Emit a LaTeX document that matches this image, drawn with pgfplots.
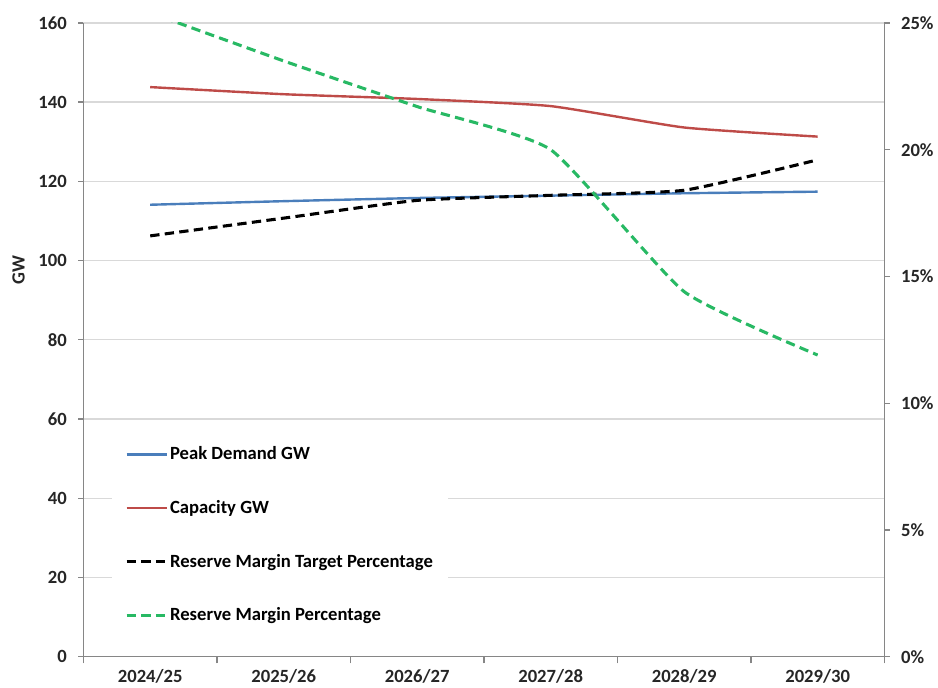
\documentclass[border=0pt]{standalone}
\usepackage{pgfplots}
\pgfplotsset{compat=1.18}
\usepackage{fontspec}
\setmainfont{Carlito}

\definecolor{peakblue}{RGB}{74,126,187}
\definecolor{capred}{RGB}{190,75,72}
\definecolor{rmgreen}{RGB}{40,185,100}
\definecolor{gridgray}{RGB}{217,217,217}
\definecolor{axgray}{RGB}{134,134,134}
\definecolor{txt}{RGB}{38,38,38}

\pgfplotsset{
  chartbase/.style={
    scale only axis, width=601.5pt, height=476pt,
    xmin=-0.5, xmax=5.5,
    tick label style={font=\fontsize{14}{17}\selectfont\bfseries, text=txt},
    /pgf/number format/assume math mode=true,
    tick align=outside, major tick length=4pt,
    axis line style={axgray, line width=1pt},
    every tick/.style={axgray, line width=1pt},
  },
}

\begin{document}
\begin{tikzpicture}
\begin{axis}[chartbase,
  ymin=0, ymax=160, ytick={0,20,...,160},
  axis x line*=bottom, axis y line*=left,
  ymajorgrids, grid style={gridgray, line width=1pt},
  xtick={0,...,5},
  xticklabels={2024/25,2025/26,2026/27,2027/28,2028/29,2029/30},
  major x tick style={draw=none},
  minor xtick={-0.5,0.5,...,5.5}, minor tick length=5pt,
  xticklabel style={yshift=-2pt},
  yticklabel style={xshift=-5pt},
  ylabel={GW}, ylabel style={font=\fontsize{14}{17}\selectfont\bfseries, text=txt,
    at={(axis description cs:-0.081,0.61)}, anchor=center},
]
\addplot[peakblue, line width=1.8pt, smooth, tension=0.3] coordinates {
(0,114.1) (1,115.0) (2,115.8) (3,116.4) (4,117.0) (5,117.4)};
\addplot[capred, line width=1.8pt, smooth, tension=0.3] coordinates {
(0,143.8) (1,142.0) (2,140.8) (3,139.0) (4,133.6) (5,131.3)};
\end{axis}

\begin{axis}[chartbase,
  ymin=0, ymax=25, ytick={0,5,...,25},
  yticklabel={\pgfmathprintnumber{\tick}\%},
  yticklabel style={xshift=5pt},
  axis x line=none, axis y line*=right,
  legend style={at={(0.035,0.36)}, anchor=north west, draw=none, fill=white,
    font=\fontsize{14}{17}\selectfont\bfseries, text=black,
    nodes={inner sep=1.5pt},
    row sep=26pt, inner xsep=10pt, inner ysep=12pt},
  legend cell align=left,
  legend image code/.code={\draw[#1] (0pt,0pt) -- (30pt,0pt);},
]
\addlegendimage{peakblue, line width=1.8pt}
\addlegendentry{Peak Demand GW}
\addlegendimage{capred, line width=1.8pt}
\addlegendentry{Capacity GW}
\addplot[black, line width=2.3pt, dash pattern=on 7pt off 4pt, smooth, tension=0.3] coordinates {
(0,16.6) (1,17.3) (2,18.0) (3,18.2) (4,18.4) (5,19.6)};
\addlegendentry{Reserve Margin Target Percentage}
\addplot[rmgreen, line width=2.3pt, dash pattern=on 7pt off 4pt, smooth, tension=0.3] coordinates {
(0,25.4) (1,23.5) (2,21.7) (3,20.0) (4,14.4) (5,11.9)};
\addlegendentry{Reserve Margin Percentage}
\end{axis}
\path (current bounding box.north) ++(0,9pt);
\path (current bounding box.west) ++(-6pt,0);
\end{tikzpicture}
\end{document}
